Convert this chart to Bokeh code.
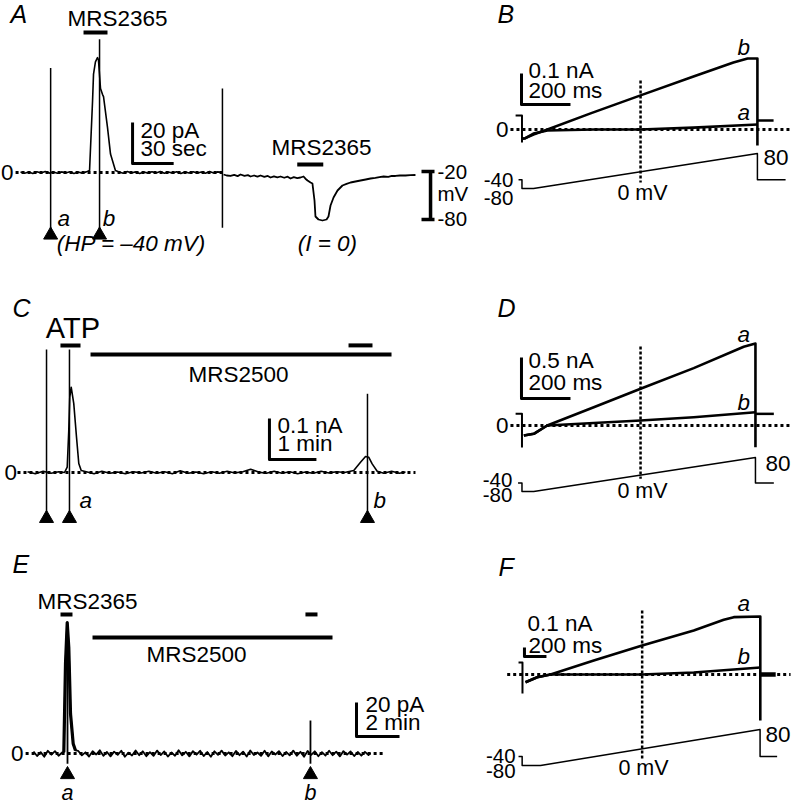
from bokeh.plotting import figure
from bokeh.models import Range1d
from bokeh.core.properties import value
from bokeh.embed import file_html
from bokeh.resources import INLINE

# ============================ DATA ============================
# ---- Panel A: membrane current (time s, current pA), HP = -40 mV ----
A_t = [0, 3, 6, 9, 12, 15, 18, 21, 24, 27, 30, 33, 36, 39, 42, 45, 48,
       50.4, 52.6, 53.3, 54.7, 56.2, 56.9, 58.4, 59.9, 60.6, 63.5, 65.7, 69.3,
       72, 75, 78, 81, 84, 87, 90, 93, 96, 99, 102, 105, 108, 111, 114, 117,
       120, 123, 126, 129, 132, 135, 138, 141, 144, 147.4]
A_i = [0.3, -0.4, 0.2, -0.5, 0.4, -0.2, 0.5, -0.3, 0.2, -0.4, 0.3, -0.2, 0.4, -0.5, 0.2, -0.3, 0.3,
       1, 35, 48, 54, 56, 55, 41, 38, 37, 22, 9, 1,
       0.3, -0.4, 0.5, -0.2, 0.3, -0.5, 0.2, -0.3, 0.4, -0.2, 0.5, -0.4, 0.2, -0.3, 0.4, -0.5,
       0.3, -0.2, 0.4, -0.3, 0.2, -0.4, 0.5, -0.2, 0.3, 0.0]
A_ramp_t = [22.0, 57.7, 147.4]
A_ramp_top = [51.0, 65.0, 41.0]
A_ramp_bot = [-30.0, -30.0, -27.0]
A_arrow_t = [22.0, 57.7]
A_drug_t = [46.0, 63.5]            # MRS2365 application (current record)
# membrane potential, I = 0 (time s, mV)
A_vt = [148.2, 150.5, 153.3, 156, 158.5, 160.6, 163.5, 166, 167.9, 170.5,
        173, 175.2, 178, 180.5, 182.5, 185, 187.5, 189.8, 192.5, 195,
        197.1, 199.5, 202, 204.4, 206.6, 208, 209.5, 211.7, 213.1, 214.6,
        215.3, 217.5, 220.4, 223.4, 224.8, 226.3, 228.5, 231.4, 235, 238,
        240.9, 244.5, 248.2, 252, 255.5, 259, 262, 265, 268.5, 271,
        273.7, 277, 281, 284.5, 288.3]
A_vm = [-23.75, -25.0, -25.6, -24.2, -25.8, -23.75, -25.5, -24.5, -26.25, -25.0,
        -26.5, -25.0, -26.8, -25.6, -27.5, -26.0, -27.2, -26.25, -27.8, -26.5,
        -28.75, -27.0, -28.2, -27.5, -26.25, -29.0, -31.25, -33.75, -35.0, -56.25,
        -76.25, -80.0, -81.25, -80.0, -76.25, -62.5, -52.5, -43.75, -37.5, -35.5,
        -33.75, -32.5, -31.25, -30.0, -28.75, -28.0, -27.0, -26.25, -26.8, -25.6,
        -25.6, -25.0, -25.0, -24.6, -24.4]
A_drug2_t = [202.0, 221.0]
A_vscale = [-20, -80]

# ---- Panel B: ramp currents (time ms, current nA) ----
B_t_b = [6, 20, 53, 110, 286, 490, 706, 869, 927, 967, 967]
B_i_b = [-0.030, -0.028, -0.016, 0.0, 0.052, 0.110, 0.171, 0.216, 0.229, 0.229, -0.052]
B_t_a = [6, 20, 53, 110, 300, 490, 706, 967]
B_i_a = [-0.030, -0.028, -0.013, -0.003, 0.0, 0.0, 0.006, 0.016]
B_t_post = [967, 1033]
B_i_post = [0.029, 0.029]
B_vt = [-8, 6, 6, 53, 967, 967, 1082]
B_vm = [-40, -40, -80, -80, 80, -40, -40]

# ---- Panel C: ATP currents (time s, current nA) ----
C_t = [0, 10, 20, 30, 40, 47.3,
       50.7, 52.7, 54.0, 55.8, 59.1, 62.6, 65.5, 68.6,
       75, 85, 95, 105, 115, 125, 135, 145, 155, 165, 175, 185, 195, 205, 215, 225, 235,
       245, 255, 265, 275, 285, 295, 305, 315, 325, 335, 345, 355, 365, 375, 385, 395, 405,
       416.7, 425.3, 431.7, 435.9, 440.2, 446.6,
       455, 465, 475, 482.8]
C_i = [0.002, -0.003, 0.003, -0.002, 0.002, 0.0,
       0.013, 0.102, 0.184, 0.208, 0.168, 0.086, 0.022, 0.005,
       0.002, -0.003, 0.003, -0.002, 0.001, -0.003, 0.002, -0.001, 0.003, -0.002, 0.002, -0.003, 0.004,
       -0.002, 0.001, -0.003, 0.002, -0.002, 0.003, -0.001, 0.002, 0.008, 0.001, -0.002, 0.003, -0.002,
       0.002, -0.003, 0.001, -0.002, 0.003, -0.001, 0.002, 0.0,
       0.005, 0.025, 0.039, 0.037, 0.021, 0.003,
       -0.002, 0.003, -0.002, 0.001]
C_ramp_t = [24.3, 53.6, 434.2]
C_ramp_top = [0.30, 0.30, 0.192]
C_atp_t = [42.1, 67.7]
C_atp2_t = [410.0, 440.6]
C_mrs2500_t = [80.5, 464.9]

# ---- Panel D: ramp currents (time ms, current nA) ----
D_t_a = [13.5, 54.3, 109, 299, 490, 707, 911, 959, 959]
D_i_a = [-0.122, -0.101, 0.0, 0.223, 0.448, 0.70, 0.96, 1.0, -0.265]
D_t_b = [13.5, 54.3, 109, 490, 707, 959]
D_i_b = [-0.122, -0.101, 0.0, 0.061, 0.101, 0.162]
D_t_post = [959, 1034]
D_i_post = [0.142, 0.142]
D_vt = [-10, 6, 6, 54, 959, 959, 1034]
D_vm = [-40, -40, -80, -80, 80, -40, -40]

# ---- Panel E: MRS2365 currents (time s, current pA) ----
E_peak_t = [84.6, 89.3, 94.1, 98.5, 103.3, 110.8, 117.2]
E_peak_i = [0.8, 52.8, 77.0, 62.5, 23.4, 5.7, 1.8]
E_t = ([0, 10, 20, 30, 40, 50, 60, 70, 80] + E_peak_t
       + [125 + 10 * k for k in range(82)] + [940.6])
E_i = ([1.2, -1.5, 0.8, -1.9, 1.6, -0.7, 1.4, -1.3, 0.6] + E_peak_i +
       [1.5, -1.1, 0.7, -1.8, 1.3, -0.6, 1.9, -1.4, 0.9, -1.7,
        1.1, -0.8, 1.6, -1.9, 0.5, -1.2, 1.8, -1.0, 1.3, -1.6,
        0.8, -1.4, 1.7, -0.9, 1.2, -1.8, 0.6, -1.3, 1.9, -1.1,
        1.0, -1.7, 1.4, -0.7, 1.6, -1.5, 0.9, -1.9, 1.3, -0.8,
        1.7, -1.2, 0.7, -1.6, 1.5, -1.0, 1.1, -1.8, 1.8, -0.9,
        0.6, -1.4, 1.6, -1.7, 1.2, -0.6, 1.4, -1.5, 0.9, -1.1,
        1.7, -1.3, 1.0, -1.9, 1.5, -0.8, 1.3, -1.6, 0.8, -1.2,
        1.6, -1.0, 1.1, -1.7, 1.4, -0.7, 1.2, -1.5, 0.9, -1.3,
        1.0, -0.9, 0.4])
E_ramp_t = [94.9, 773.0]
E_ramp_top = [70.0, 19.4]
E_mrs2365_t = [75.4, 108.8]
E_mrs2365b_t = [759.0, 792.6]
E_mrs2500_t = [164.7, 834.5]

# ---- Panel F: ramp currents (time ms, current nA) ----
F_t_a = [45.5, 152, 273, 666, 1106, 1575, 1848, 1939, 2180, 2180]
F_i_a = [-0.086, -0.030, 0.0, 0.156, 0.322, 0.489, 0.608, 0.637, 0.644, -0.511]
F_t_b = [45.5, 152, 273, 1106, 1575, 2180]
F_i_b = [-0.086, -0.030, 0.0, 0.0, 0.022, 0.078]
F_t_post = [2180, 2320]
F_i_post = [0.0, 0.0]
F_vt = [-18, 15, 15, 182, 2178, 2178, 2333]
F_vm = [-40, -40, -80, -80, 80, -40, -40]

# scale-bar sizes (as labelled)
SB_A = (30, 20)      # s, pA
SB_B = (200, 0.1)    # ms, nA
SB_C = (60, 0.1)     # s, nA
SB_D = (200, 0.5)    # ms, nA
SB_E = (120, 20)     # s, pA
SB_F = (200, 0.1)    # ms, nA

# ============================ FIGURE ============================
W, H = 792, 806
WR, HR = float(W), float(H)

p = figure(width=W, height=H, x_range=Range1d(0, W), y_range=Range1d(0, H),
           output_backend="svg", toolbar_location=None,
           x_axis_type=None, y_axis_type=None, min_border=0, title=None)
p.outline_line_color = None
p.background_fill_color = "white"
p.border_fill_color = "white"


def xr(px0, kx):
    return Range1d(start=-px0 / kx, end=(WR - px0) / kx)


def yr(py0, ky):
    return Range1d(start=(py0 - HR) / ky, end=py0 / ky)


p.extra_x_ranges = {
    "Ax": xr(20, 1.37), "Bx": xr(520, 0.245), "Cx": xr(27, 0.783),
    "Dx": xr(520, 0.245), "Ex": xr(33, 0.3583), "Fx": xr(520, 0.11),
}
p.extra_y_ranges = {
    "Ai": yr(172, 2.05), "Av": yr(155, 0.8),
    "Bi": yr(129, 310), "Bv": yr(170.5, 0.21875),
    "Ci": yr(472, 410),
    "Di": yr(425, 82), "Dv": yr(474, 0.2125),
    "Ei": yr(753, 1.7),
    "Fi": yr(674, 90), "Fv": yr(747, 0.225),
}

K = "black"
FONT = value("Liberation Sans")
FS = 22.5


def ln(xn, yn, xs, ys, w=1.5, dash="solid"):
    p.line(xs, ys, x_range_name=xn, y_range_name=yn, line_color=K,
           line_width=w, line_dash=dash, line_join="round")


def sg(xn, yn, x0, y0, x1, y1, w=1.5, dash="solid"):
    p.segment(x0, y0, x1, y1, x_range_name=xn, y_range_name=yn,
              line_color=K, line_width=w, line_dash=dash)


def tx(xn, yn, xs, ys, texts, align="left", size=FS, style="normal", base="middle"):
    p.text(x=xs, y=ys, text=texts, x_range_name=xn, y_range_name=yn,
           text_font=FONT, text_font_size=f"{size}px", text_font_style=style,
           text_align=align, text_baseline=base, text_color=K)


def arrows(xn, yn, xs, y):
    p.scatter(xs, [y] * len(xs), marker="triangle", size=14, color=K,
              x_range_name=xn, y_range_name=yn)


def scalebar(xn, yn, x0, y0, dx, dy):
    ln(xn, yn, [x0, x0, x0 + dx], [y0 + dy, y0, y0], w=3)


DOT = "3 3"
VDOT = "3 2"

# ---------------- Panel A ----------------
ln("Ax", "Ai", [-3.6, 148], [0, 0], w=3, dash=DOT)
ln("Ax", "Ai", A_t, A_i, w=1.6)
sg("Ax", "Ai", A_ramp_t, A_ramp_bot, A_ramp_t, A_ramp_top, w=1.5)
arrows("Ax", "Ai", A_arrow_t, -30.5)
ln("Ax", "Ai", A_drug_t, [68.3, 68.3], w=4)
tx("Ax", "Ai", [70.8], [74.9], ["MRS2365"], align="center")
scalebar("Ax", "Ai", 81.8, 4.4, SB_A[0], SB_A[1])
tx("Ax", "Ai", [87.6, 87.6], [20.7, 11.5], ["20 pA", "30 sec"])
tx("Ax", "Ai", [27, 60], [-22.4, -22.4], ["a", "b"], style="italic")
tx("Ax", "Ai", [81, 224], [-34.6, -34.6], ["(HP = \u201340 mV)", "(I = 0)"],
   align="center", style="italic")
tx("Ax", "Ai", [-5.1], [0], ["0"], align="right")
tx("Ax", "Ai", [-7.3], [77.3], ["A"], size=25, style="italic")
ln("Ax", "Av", A_vt, A_vm, w=1.8)
ln("Ax", "Av", A_drug2_t, [-11.25, -11.25], w=4)
tx("Ax", "Av", [219.7], [9.4], ["MRS2365"], align="center")
sg("Ax", "Av", [299.3], [A_vscale[0]], [299.3], [A_vscale[1]], w=3.5)
sg("Ax", "Av", [292.7, 292.7], A_vscale, [302.2, 302.2], A_vscale, w=3.5)
tx("Ax", "Av", [304.4, 304.4, 304.4], [-20.6, -47.5, -78.75], ["-20", "mV", "-80"], size=20.5)


# ---------------- Panels B / D / F (ramps) ----------------
def ramp_panel(P, zero_x, vdot, tr_a, tr_b, post, post_w, brk, vtr, lbl_ab, sb, sbpos, sbtxt,
               vlbl, zero_lbl, letter):
    xn, yi, yv = P + "x", P + "i", P + "v"
    ln(xn, yi, zero_x, [0, 0], w=3, dash=DOT)
    ln(xn, yi, [vdot[0], vdot[0]], [vdot[1], vdot[2]], w=2.5, dash=VDOT)
    ln(xn, yi, brk[0], brk[1], w=2)
    ln(xn, yi, tr_b[0], tr_b[1], w=2.6)
    ln(xn, yi, tr_a[0], tr_a[1], w=2.6)
    ln(xn, yi, post[0], post[1], w=post_w)
    ln(xn, yv, vtr[0], vtr[1], w=1.5)
    tx(xn, yi, lbl_ab[0], lbl_ab[1], lbl_ab[2], style="italic")
    scalebar(xn, yi, sbpos[0], sbpos[1], sb[0], sb[1])
    tx(xn, yi, sbtxt[0], sbtxt[1], sbtxt[2])
    tx(xn, yv, vlbl["r"][0], vlbl["r"][1], ["-40", "-80"], align="right", size=20.5)
    tx(xn, yv, [vlbl["80"][0]], [vlbl["80"][1]], ["80"])
    tx(xn, yv, [vlbl["0"][0]], [vlbl["0"][1]], ["0 mV"], align="center", size=21.5)
    if zero_lbl is not None:
        tx(xn, yi, [zero_lbl], [0], ["0"], align="right")
    tx(xn, yi, [letter[0]], [letter[1]], [P], size=25, style="italic")


ramp_panel("B", [-41, 1102], (490, 0.158, -0.171),
           (B_t_a, B_i_a), (B_t_b, B_i_b), (B_t_post, B_i_post), 2.5,
           ([-20, 6, 6], [0.045, 0.045, -0.042]), (B_vt, B_vm),
           ([886, 886], [0.055, 0.265], ["a", "b"]),
           SB_B, (4, 0.081), ([33, 33], [0.189, 0.126], ["0.1 nA", "200 ms"]),
           {"r": ([-29, -29], [-40, -123]), "80": (992, 64), "0": (498, -100.6)},
           -49, (-94, 0.371))

ramp_panel("D", [-41, 1102], (490, 0.963, -0.65),
           (D_t_a, D_i_a), (D_t_b, D_i_b), (D_t_post, D_i_post), 2.5,
           ([-20, 6, 6], [0.143, 0.143, -0.268]), (D_vt, D_vm),
           ([886, 886], [1.11, 0.28], ["a", "b"]),
           SB_D, (4, 0.329), ([33, 33], [0.793, 0.524], ["0.5 nA", "200 ms"]),
           {"r": ([-33, -33], [-28, -98.8]), "80": (1000, 54), "0": (498, -75.3)},
           -49, (-94, 1.439))

ramp_panel("F", [-121, 2455], (1106, 0.711, -0.956),
           (F_t_a, F_i_a), (F_t_b, F_i_b), (F_t_post, F_i_post), 4.5,
           ([-18, 18, 18], [0.133, 0.133, -0.211]), (F_vt, F_vm),
           ([1973, 1973], [0.789, 0.2], ["a", "b"]),
           SB_F, (36, 0.2), ([64, 73], [0.572, 0.322], ["0.1 nA", "200 ms"]),
           {"r": ([-45, -45], [-37.8, -104.4]), "80": (2227, 60), "0": (1118, -93)},
           None, (-200, 1.194))

# ---------------- Panel C ----------------
ln("Cx", "Ci", [-12.8, 495.5], [0, 0], w=3, dash=DOT)
ln("Cx", "Ci", C_t, C_i, w=1.6)
sg("Cx", "Ci", C_ramp_t, [-0.105] * 3, C_ramp_t, C_ramp_top, w=1.5)
arrows("Cx", "Ci", C_ramp_t, -0.112)
ln("Cx", "Ci", C_atp_t, [0.31, 0.31], w=4)
ln("Cx", "Ci", C_atp2_t, [0.31, 0.31], w=4)
ln("Cx", "Ci", C_mrs2500_t, [0.288, 0.288], w=4)
tx("Cx", "Ci", [58.1], [0.352], ["ATP"], align="center", size=29)
tx("Cx", "Ci", [269.5], [0.240], ["MRS2500"], align="center")
scalebar("Cx", "Ci", 309, 0.032, SB_C[0], SB_C[1])
tx("Cx", "Ci", [319.3, 319.3], [0.115, 0.070], ["0.1 nA", "1 min"])
tx("Cx", "Ci", [66.4, 441.9], [-0.068, -0.068], ["a", "b"], style="italic")
tx("Cx", "Ci", [-13.4], [0], ["0"], align="right")
tx("Cx", "Ci", [-19.2], [0.402], ["C"], size=25, style="italic")

# ---------------- Panel E ----------------
ln("Ex", "Ei", [-22, 982], [0, 0], w=3, dash=DOT)
ln("Ex", "Ei", E_t, E_i, w=1.8)
ln("Ex", "Ei", E_peak_t, E_peak_i, w=3.2)
sg("Ex", "Ei", E_ramp_t, [-6.0, -6.0], E_ramp_t, E_ramp_top, w=1.8)
arrows("Ex", "Ei", E_ramp_t, -12.4)
ln("Ex", "Ei", E_mrs2365_t, [81.8, 81.8], w=4)
ln("Ex", "Ei", E_mrs2365b_t, [81.8, 81.8], w=4)
ln("Ex", "Ei", E_mrs2500_t, [68.2, 68.2], w=4)
tx("Ex", "Ei", [150.7], [89.4], ["MRS2365"], align="center")
tx("Ex", "Ei", [455], [58.5], ["MRS2500"], align="center")
scalebar("Ex", "Ei", 901.5, 10, SB_E[0], SB_E[1])
tx("Ex", "Ei", [926.6, 926.6], [29.1, 18.5], ["20 pA", "2 min"])
tx("Ex", "Ei", E_ramp_t, [-23.0, -23.0], ["a", "b"], align="center", size=21.5, style="italic")
tx("Ex", "Ei", [-27.9], [0], ["0"], align="right")
tx("Ex", "Ei", [-58.6], [111.2], ["E"], size=25, style="italic")

open("out.html", "w").write(file_html(p, INLINE))
